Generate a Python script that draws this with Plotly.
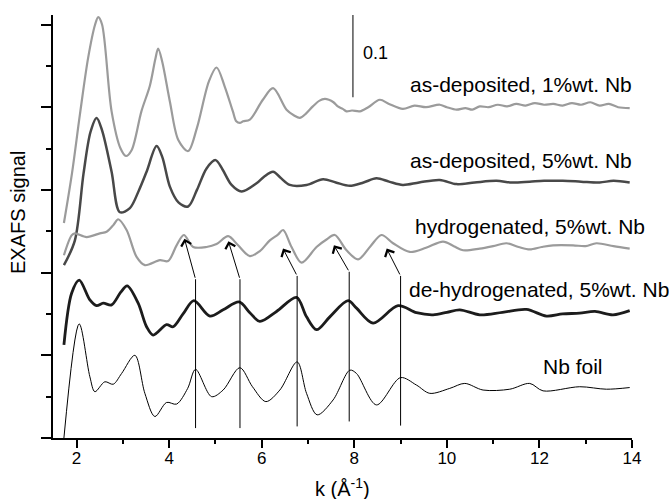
import plotly.graph_objects as go

# ---- data (k in 1/Angstrom, signal in arbitrary offset units) ----
k_asdep1 = [1.726, 1.90, 2.071, 2.25, 2.40, 2.467, 2.55, 2.756, 2.95, 3.065, 3.188, 3.40, 3.583, 3.70, 3.762, 3.85, 4.015, 4.20, 4.410,
            4.60, 4.857, 5.024, 5.20, 5.376, 5.45, 5.527, 5.60, 5.743, 6.024, 6.246, 6.536, 6.70, 6.823, 6.95, 7.104, 7.25, 7.363,
            7.45, 7.55, 7.644, 7.75, 7.832, 7.95, 8.119, 8.30, 8.551, 8.75, 9.048, 9.30, 9.55, 9.847, 10.0, 10.207, 10.4, 10.55,
            10.711, 10.9, 11.1, 11.3, 11.5, 11.7, 11.9, 12.1, 12.3, 12.5, 12.7, 12.9, 13.1, 13.3, 13.5, 13.7, 13.95]
y_asdep1 = [0.260, 0.320, 0.391, 0.460, 0.500, 0.509, 0.500, 0.395, 0.350, 0.341, 0.348, 0.395, 0.426, 0.458, 0.471, 0.455, 0.407, 0.360, 0.347,
            0.375, 0.431, 0.448, 0.425, 0.395, 0.383, 0.381, 0.383, 0.385, 0.409, 0.423, 0.397, 0.390, 0.387, 0.392, 0.401, 0.408, 0.410,
            0.409, 0.406, 0.401, 0.398, 0.395, 0.396, 0.395, 0.400, 0.409, 0.404, 0.398, 0.402, 0.400, 0.403, 0.400, 0.397, 0.399, 0.397,
            0.401, 0.400, 0.403, 0.401, 0.404, 0.402, 0.405, 0.403, 0.404, 0.402, 0.405, 0.403, 0.406, 0.402, 0.404, 0.400, 0.399]

k_asdep5 = [1.726, 1.963, 2.15, 2.30, 2.432, 2.55, 2.756, 2.935, 3.151, 3.35, 3.512, 3.728, 3.85, 4.015, 4.20, 4.410, 4.60, 4.808, 5.002,
            5.15, 5.348, 5.564, 5.888, 6.05, 6.246, 6.40, 6.607, 6.968, 7.326, 7.60, 7.903, 8.20, 8.479, 8.75, 9.048, 9.40, 9.847,
            10.207, 10.6, 11.071, 11.4, 11.790, 12.1, 12.503, 12.9, 13.3, 13.6, 13.95]
y_asdep5 = [0.209, 0.239, 0.320, 0.370, 0.387, 0.372, 0.322, 0.273, 0.278, 0.300, 0.322, 0.353, 0.340, 0.304, 0.285, 0.280, 0.300, 0.326, 0.336,
            0.325, 0.306, 0.298, 0.308, 0.316, 0.322, 0.315, 0.306, 0.306, 0.313, 0.309, 0.305, 0.309, 0.314, 0.310, 0.306, 0.309, 0.312,
            0.307, 0.309, 0.311, 0.309, 0.310, 0.311, 0.311, 0.310, 0.309, 0.311, 0.309]

k_hydro = [1.726, 1.892, 1.963, 2.216, 2.503, 2.648, 2.80, 2.898, 3.080, 3.296, 3.475, 3.799, 3.978, 4.160, 4.317, 4.518, 4.808, 5.024,
           5.274, 5.490, 5.743, 5.959, 6.175, 6.35, 6.462, 6.644, 6.860, 7.184, 7.40, 7.579, 7.832, 8.082, 8.35, 8.588, 8.838, 9.199,
           9.55, 9.918, 10.15, 10.350, 10.711, 11.0, 11.287, 11.55, 11.790, 12.05, 12.294, 12.726, 13.0, 13.231, 13.6, 13.95]
y_hydro = [0.221, 0.245, 0.2475, 0.243, 0.2475, 0.2495, 0.258, 0.2645, 0.2515, 0.219, 0.209, 0.215, 0.214, 0.233, 0.2455, 0.231, 0.231, 0.2345,
           0.244, 0.233, 0.220, 0.226, 0.239, 0.246, 0.2515, 0.231, 0.212, 0.231, 0.240, 0.2455, 0.227, 0.216, 0.232, 0.2455, 0.2355, 0.225,
           0.230, 0.2375, 0.232, 0.227, 0.229, 0.232, 0.2355, 0.231, 0.228, 0.231, 0.233, 0.233, 0.232, 0.2355, 0.232, 0.229]

k_dehydro = [1.726, 1.892, 2.056, 2.287, 2.432, 2.575, 2.756, 2.95, 3.093, 3.330, 3.512, 3.654, 3.944, 4.086, 4.30, 4.533, 4.879, 5.166,
             5.512, 5.743, 5.959, 6.320, 6.752, 6.968, 7.184, 7.471, 7.866, 8.048, 8.406, 8.946, 9.343, 9.702, 10.0, 10.279, 10.711,
             11.2, 11.719, 12.151, 12.5, 12.870, 13.2, 13.590, 13.95]
y_dehydro = [0.1125, 0.175, 0.191, 0.167, 0.160, 0.163, 0.161, 0.176, 0.184, 0.163, 0.1345, 0.1245, 0.137, 0.1345, 0.150, 0.166, 0.1475, 0.155,
             0.1645, 0.1515, 0.141, 0.153, 0.170, 0.1465, 0.131, 0.1465, 0.166, 0.157, 0.139, 0.160, 0.1515, 0.149, 0.152, 0.155, 0.149,
             0.152, 0.1555, 0.1475, 0.150, 0.151, 0.153, 0.149, 0.154]

k_foil = [1.726, 2.056, 2.287, 2.395, 2.611, 2.790, 2.972, 3.259, 3.475, 3.691, 3.944, 4.160, 4.40, 4.570, 4.916, 5.166, 5.527, 5.80,
          6.089, 6.391, 6.765, 6.968, 7.197, 7.542, 7.903, 8.048, 8.479, 8.998, 9.343, 9.631, 10.063, 10.387, 10.782, 11.359, 11.790,
          12.078, 12.870, 13.447, 13.95]
y_foil = [0.0, 0.138, 0.074, 0.056, 0.068, 0.065, 0.078, 0.100, 0.054, 0.026, 0.043, 0.041, 0.060, 0.083, 0.050, 0.058, 0.085, 0.062,
          0.044, 0.058, 0.092, 0.054, 0.028, 0.046, 0.082, 0.078, 0.040, 0.073, 0.064, 0.054, 0.060, 0.066, 0.058, 0.059, 0.066,
          0.057, 0.062, 0.059, 0.061]

series_names = ["as-deposited, 1%wt. Nb", "as-deposited, 5%wt. Nb", "hydrogenated, 5%wt. Nb",
                "de-hydrogenated, 5%wt. Nb", "Nb foil"]

# peak-correlation guides: foil peak k, bottom / top of vertical, arrow tip on hydrogenated curve
guide_k = [4.57, 5.53, 6.765, 7.89, 9.00]
guide_bottom = [0.012, 0.012, 0.014, 0.020, 0.015]
guide_top = [0.192, 0.192, 0.196, 0.201, 0.196]
tip_k = [4.33, 5.28, 6.46, 7.56, 8.70]
tip_y = [0.241, 0.238, 0.229, 0.233, 0.229]

# curve labels
label_k = [9.156, 9.156, 9.27, 9.13, 12.04]
label_y = [0.427, 0.336, 0.2555, 0.179, 0.086]

# scale bar
scale_k = 7.97
scale_y = [0.412, 0.512]
scale_text = "0.1"

FONT = "Liberation Sans, Arial, sans-serif"

fig = go.Figure()
curves = [
    (k_asdep1, y_asdep1, "#9b9b9b", 2.2),
    (k_asdep5, y_asdep5, "#484848", 2.5),
    (k_hydro, y_hydro, "#9b9b9b", 2.2),
    (k_dehydro, y_dehydro, "#1c1c1c", 2.8),
    (k_foil, y_foil, "#000000", 1.0),
]
for (kx, yy, col, w), nm in zip(curves, series_names):
    fig.add_trace(go.Scatter(x=kx, y=yy, mode="lines", name=nm,
                             line=dict(color=col, width=w, shape="spline", smoothing=0.9),
                             showlegend=False, hoverinfo="skip"))

for gk, gb, gt in zip(guide_k, guide_bottom, guide_top):
    fig.add_shape(type="line", xref="x", yref="y", x0=gk, x1=gk, y0=gb, y1=gt,
                  line=dict(color="black", width=1))

for gk, gt, tk, ty in zip(guide_k, guide_top, tip_k, tip_y):
    fig.add_annotation(x=tk, y=ty, ax=gk, ay=gt, xref="x", yref="y", axref="x", ayref="y",
                       text="", showarrow=True, arrowhead=4, arrowsize=2.0, arrowwidth=1,
                       arrowcolor="black")

for txt, lk, ly in zip(series_names, label_k, label_y):
    fig.add_annotation(x=lk, y=ly, xref="x", yref="y", text=txt, showarrow=False,
                       xanchor="left", yanchor="middle",
                       font=dict(family=FONT, size=21, color="black"))

fig.add_shape(type="line", xref="x", yref="y", x0=scale_k, x1=scale_k, y0=scale_y[0], y1=scale_y[1],
              line=dict(color="#555555", width=1.5))
fig.add_annotation(x=scale_k + 0.17, y=0.465, xref="x", yref="y", text=scale_text, showarrow=False,
                   xanchor="left", yanchor="middle", font=dict(family=FONT, size=18, color="black"))

# axis titles as annotations for exact placement
fig.add_annotation(x=0.5, y=-0.116, xref="paper", yref="paper", text="k (Å<sup>-1</sup>)",
                   showarrow=False, xanchor="center", yanchor="middle",
                   font=dict(family=FONT, size=20, color="black"))
fig.add_annotation(x=-0.0604, y=0.532, xref="paper", yref="paper", text="EXAFS signal",
                   showarrow=False, xanchor="center", yanchor="middle", textangle=-90,
                   font=dict(family=FONT, size=20, color="black"))

fig.update_layout(
    width=669, height=499,
    margin=dict(l=53, r=37, t=15, b=61, autoexpand=False),
    paper_bgcolor="white", plot_bgcolor="white",
    font=dict(family=FONT, size=17, color="black"),
    showlegend=False,
)
fig.update_xaxes(range=[1.49, 14], showline=True, linecolor="black", linewidth=2,
                 ticks="outside", ticklen=8, tickwidth=2, tickcolor="black",
                 tickmode="linear", tick0=2, dtick=2, automargin=False,
                 minor=dict(ticks="outside", ticklen=4, tickwidth=2, tickcolor="black", dtick=1, tick0=1),
                 showgrid=False, zeroline=False, tickfont=dict(size=17), ticklabelstandoff=-4)
fig.update_yaxes(range=[0, 0.5115], showline=True, linecolor="black", linewidth=2,
                 ticks="outside", ticklen=10, tickwidth=2, tickcolor="black",
                 tickmode="linear", tick0=0, dtick=0.1, showticklabels=False, automargin=False,
                 minor=dict(ticks="outside", ticklen=5, tickwidth=2, tickcolor="black", dtick=0.05, tick0=0),
                 showgrid=False, zeroline=False)

fig.write_html("out.html", config={"displayModeBar": False},
               post_script="document.body.style.margin='0';document.body.style.overflow='hidden';")
